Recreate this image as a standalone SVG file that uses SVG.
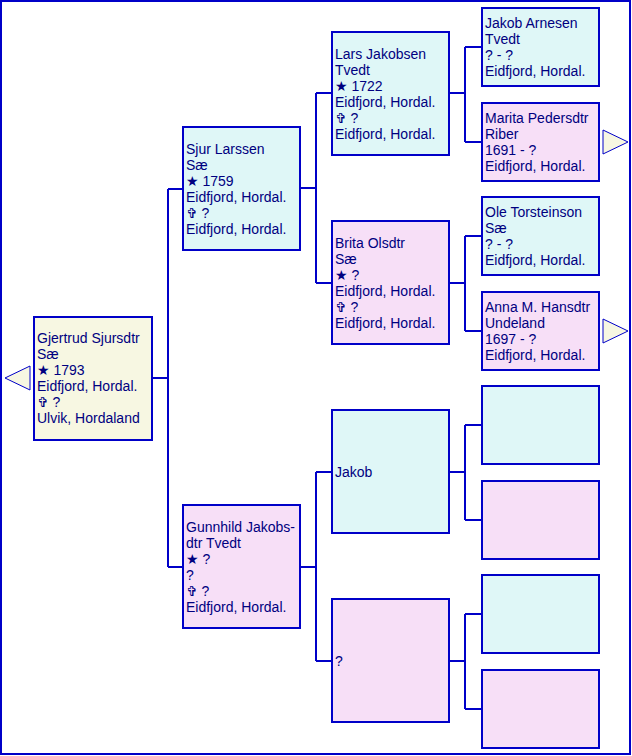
<svg xmlns="http://www.w3.org/2000/svg" width="632" height="756" viewBox="0 0 632 756">
<style>
.b{stroke:#0000C8;stroke-width:2}
.m{fill:#DFF7F7}
.f{fill:#F7DFF7}
.r{fill:#F7F7E2}
.c{fill:none;stroke:#0000C8;stroke-width:2}
.t{fill:#F7F7E2;stroke:#0000C8;stroke-width:1}
text{font-family:"Liberation Sans","DejaVu Sans",Arial,sans-serif;font-size:14px;fill:#000080}
.s{font-family:"DejaVu Sans",sans-serif;font-size:14px}
</style>
<rect x="1" y="1" width="629" height="753" fill="#FFFFFF" stroke="#0000C8" stroke-width="2"/>
<g id="connectors">
<path class="c" d="M152 378H168M168 189V567M168 189H183M168 567H183"/>
<path class="c" d="M300 188H316M316 93V283M316 93H332M316 283H332"/>
<path class="c" d="M300 567H316M316 472V661M316 472H332M316 661H332"/>
<path class="c" d="M449 93H466M465 47V142M465 47H482M465 142H482"/>
<path class="c" d="M449 283H466M465 236V331M465 236H482M465 331H482"/>
<path class="c" d="M449 472H466M465 425V520M465 425H482M465 520H482"/>
<path class="c" d="M449 661H466M465 614V709M465 614H482M465 709H482"/>
</g>
<g id="nav-left"><polygon class="t" points="30,366 5,378 30,390"/></g>
<g id="nav-marita"><polygon class="t" points="603,130 628,142 603,154"/></g>
<g id="nav-anna"><polygon class="t" points="603,319 628,331 603,343"/></g>
<g id="gjertrud">
<rect class="b r" x="34" y="317" width="118" height="123"/>
<text x="37" y="343">Gjertrud Sjursdtr</text>
<text x="37" y="359">Sæ</text>
<text x="37" y="375"><tspan class="s">★</tspan> 1793</text>
<text x="37" y="391">Eidfjord, Hordal.</text>
<text x="37" y="407"><tspan class="s">✞</tspan> ?</text>
<text x="37" y="423">Ulvik, Hordaland</text>
</g>
<g id="sjur">
<rect class="b m" x="183" y="127" width="117" height="123"/>
<text x="186" y="154">Sjur Larssen</text>
<text x="186" y="170">Sæ</text>
<text x="186" y="186"><tspan class="s">★</tspan> 1759</text>
<text x="186" y="202">Eidfjord, Hordal.</text>
<text x="186" y="218"><tspan class="s">✞</tspan> ?</text>
<text x="186" y="234">Eidfjord, Hordal.</text>
</g>
<g id="gunnhild">
<rect class="b f" x="183" y="505" width="117" height="123"/>
<text x="186" y="532">Gunnhild Jakobs-</text>
<text x="186" y="548">dtr Tvedt</text>
<text x="186" y="564"><tspan class="s">★</tspan> ?</text>
<text x="186" y="580">?</text>
<text x="186" y="596"><tspan class="s">✞</tspan> ?</text>
<text x="186" y="612">Eidfjord, Hordal.</text>
</g>
<g id="lars">
<rect class="b m" x="332" y="32" width="117" height="123"/>
<text x="335" y="59">Lars Jakobsen</text>
<text x="335" y="75">Tvedt</text>
<text x="335" y="91"><tspan class="s">★</tspan> 1722</text>
<text x="335" y="107">Eidfjord, Hordal.</text>
<text x="335" y="123"><tspan class="s">✞</tspan> ?</text>
<text x="335" y="139">Eidfjord, Hordal.</text>
</g>
<g id="brita">
<rect class="b f" x="332" y="221" width="117" height="123"/>
<text x="335" y="248">Brita Olsdtr</text>
<text x="335" y="264">Sæ</text>
<text x="335" y="280"><tspan class="s">★</tspan> ?</text>
<text x="335" y="296">Eidfjord, Hordal.</text>
<text x="335" y="312"><tspan class="s">✞</tspan> ?</text>
<text x="335" y="328">Eidfjord, Hordal.</text>
</g>
<g id="jakob">
<rect class="b m" x="332" y="410" width="117" height="123"/>
<text x="335" y="477">Jakob</text>
</g>
<g id="unknown">
<rect class="b f" x="332" y="599" width="117" height="123"/>
<text x="335" y="666">?</text>
</g>
<g id="jakob-arnesen">
<rect class="b m" x="482" y="8" width="117" height="78"/>
<text x="485" y="28">Jakob Arnesen</text>
<text x="485" y="44">Tvedt</text>
<text x="485" y="60">? - ?</text>
<text x="485" y="76">Eidfjord, Hordal.</text>
</g>
<g id="marita">
<rect class="b f" x="482" y="103" width="117" height="78"/>
<text x="485" y="123">Marita Pedersdtr</text>
<text x="485" y="139">Riber</text>
<text x="485" y="155">1691 - ?</text>
<text x="485" y="171">Eidfjord, Hordal.</text>
</g>
<g id="ole">
<rect class="b m" x="482" y="197" width="117" height="78"/>
<text x="485" y="217">Ole Torsteinson</text>
<text x="485" y="233">Sæ</text>
<text x="485" y="249">? - ?</text>
<text x="485" y="265">Eidfjord, Hordal.</text>
</g>
<g id="anna">
<rect class="b f" x="482" y="292" width="117" height="78"/>
<text x="485" y="312">Anna M. Hansdtr</text>
<text x="485" y="328">Undeland</text>
<text x="485" y="344">1697 - ?</text>
<text x="485" y="360">Eidfjord, Hordal.</text>
</g>
<g id="empty1"><rect class="b m" x="482" y="386" width="117" height="78"/></g>
<g id="empty2"><rect class="b f" x="482" y="481" width="117" height="78"/></g>
<g id="empty3"><rect class="b m" x="482" y="575" width="117" height="78"/></g>
<g id="empty4"><rect class="b f" x="482" y="670" width="117" height="78"/></g>
</svg>
